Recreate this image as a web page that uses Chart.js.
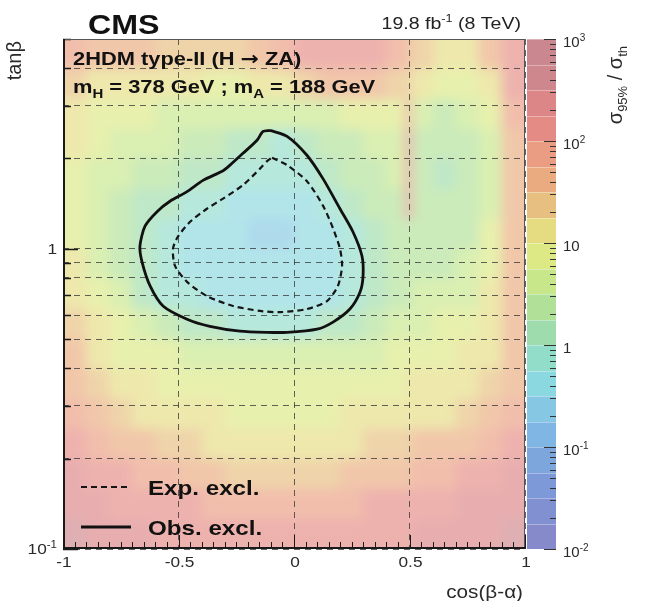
<!DOCTYPE html>
<html>
<head>
<meta charset="utf-8">
<script src="https://cdn.jsdelivr.net/npm/chart.js@4.4.1/dist/chart.umd.min.js"></script>
<style>
  html, body { margin: 0; padding: 0; background: #ffffff; }
  #wrap { width: 651px; height: 601px; }
</style>
</head>
<body>
<div id="wrap"><canvas id="chart" width="651" height="601"></canvas></div>
<script>
// ---- binning of the limit map ----
const cosBins  = [-1, -0.9, -0.8, -0.7, -0.6, -0.5, -0.4, -0.3, -0.2, -0.1, 0, 0.1, 0.2, 0.3, 0.4, 0.48, 0.51, 0.6, 0.7, 0.8, 0.9, 1];
const tanbBins = [0.1, 0.126, 0.158, 0.2, 0.251, 0.316, 0.398, 0.501, 0.631, 0.794, 1, 1.26, 1.58, 2, 2.51, 3.16, 3.98, 5];

// log10(sigma_95% / sigma_th), one row per tanb bin (bottom to top), one entry per cos bin
const log10Ratio = [
  [2.5, 2.4, 2.3, 2.3, 2.2, 2.2, 2.1, 2.1, 2.0, 2.0, 2.0, 2.1, 2.1, 2.2, 2.2, 2.2, 2.3, 2.3, 2.4, 2.4, 2.5],
  [2.4, 2.3, 2.2, 2.1, 2.0, 2.0, 1.9, 1.9, 1.8, 1.8, 1.8, 1.9, 1.9, 2.0, 2.1, 2.1, 2.1, 2.2, 2.3, 2.3, 2.4],
  [2.3, 2.1, 2.0, 1.9, 1.75, 1.6, 1.5, 1.45, 1.4, 1.4, 1.4, 1.45, 1.5, 1.6, 1.7, 1.7, 1.8, 1.9, 2.0, 2.1, 2.3],
  [2.1, 1.9, 1.7, 1.5, 1.4, 1.3, 1.2, 1.15, 1.1, 1.1, 1.1, 1.15, 1.2, 1.3, 1.4, 1.4, 1.5, 1.5, 1.7, 1.9, 2.1],
  [1.9, 1.6, 1.35, 1.2, 1.1, 1.05, 1.0, 0.95, 0.95, 0.95, 0.95, 0.95, 1.0, 1.05, 1.1, 1.1, 1.15, 1.2, 1.3, 1.6, 1.9],
  [1.7, 1.3, 1.1, 1.0, 0.95, 0.9, 0.85, 0.85, 0.8, 0.8, 0.8, 0.85, 0.85, 0.9, 0.95, 1.0, 1.0, 1.05, 1.1, 1.3, 1.7],
  [1.5, 1.1, 0.95, 0.85, 0.75, 0.7, 0.65, 0.6, 0.6, 0.6, 0.6, 0.6, 0.65, 0.7, 0.8, 0.85, 0.85, 0.9, 1.0, 1.2, 1.6],
  [1.3, 1.0, 0.8, 0.6, 0.4, 0.15, 0.0, -0.05, -0.05, -0.05, -0.05, 0.05, 0.2, 0.4, 0.55, 0.6, 0.65, 0.75, 0.85, 1.1, 1.5],
  [1.1, 0.8, 0.55, 0.15, -0.1, -0.25, -0.35, -0.4, -0.4, -0.4, -0.4, -0.3, -0.05, 0.2, 0.35, 0.45, 0.5, 0.6, 0.7, 1.0, 1.5],
  [1.0, 0.65, 0.35, 0.0, -0.2, -0.4, -0.45, -0.5, -0.5, -0.5, -0.5, -0.4, -0.15, 0.15, 0.3, 0.35, 0.35, 0.45, 0.55, 0.85, 1.6],
  [0.95, 0.6, 0.3, 0.0, -0.2, -0.4, -0.45, -0.5, -0.55, -0.65, -0.5, -0.4, -0.1, 0.15, 0.3, 0.3, 0.3, 0.35, 0.45, 0.75, 1.6],
  [0.95, 0.6, 0.4, 0.2, 0.05, -0.1, -0.2, -0.35, -0.4, -0.4, -0.35, -0.1, 0.15, 0.3, 0.4, 2.2, 0.3, 0.25, 0.3, 0.6, 1.6],
  [0.95, 0.65, 0.5, 0.4, 0.3, 0.2, 0.1, -0.05, -0.2, -0.25, -0.15, 0.05, 0.25, 0.4, 0.5, 2.2, 0.3, 0.2, 0.25, 0.6, 1.6],
  [1.0, 0.75, 0.6, 0.55, 0.5, 0.4, 0.3, 0.2, 0.05, -0.05, 0.05, 0.25, 0.45, 0.55, 0.6, 2.2, 0.35, 0.25, 0.3, 0.65, 1.7],
  [1.1, 0.9, 0.8, 0.75, 0.7, 0.65, 0.6, 0.55, 0.5, 0.5, 0.55, 0.65, 0.75, 0.85, 0.9, 1.8, 0.5, 0.45, 0.5, 0.85, 1.8],
  [1.4, 1.2, 1.1, 1.05, 1.0, 1.0, 0.95, 0.95, 1.0, 1.1, 1.3, 1.5, 1.6, 1.5, 1.3, 1.4, 1.0, 0.9, 0.95, 1.2, 2.0],
  [1.8, 1.7, 1.6, 1.5, 1.45, 1.4, 1.4, 1.45, 1.6, 1.8, 2.0, 2.1, 2.1, 2.0, 1.8, 1.7, 1.4, 1.2, 1.2, 1.5, 2.2]
];

// ---- exclusion contours ----
const expCos  = [-0.095, -0.030, 0.056, 0.126, 0.169, 0.199, 0.208, 0.190, 0.143, 0.056, -0.061, -0.147, -0.264, -0.377, -0.463, -0.515, -0.524, -0.502, -0.450, -0.377, -0.307, -0.221, -0.147, -0.113];
const expTanb = [2.01, 1.90, 1.68, 1.39, 1.17, 1.00, 0.877, 0.752, 0.670, 0.630, 0.615, 0.621, 0.645, 0.696, 0.776, 0.877, 1.00, 1.10, 1.23, 1.36, 1.47, 1.63, 1.85, 1.97];
const obsCos  = [-0.104, -0.030, 0.056, 0.126, 0.199, 0.255, 0.294, 0.299, 0.286, 0.242, 0.169, 0.100, -0.030, -0.117, -0.234, -0.364, -0.463, -0.567, -0.623, -0.658, -0.667, -0.645, -0.593, -0.537, -0.463, -0.394, -0.307, -0.277, -0.221, -0.160, -0.134];
const obsTanb = [2.48, 2.37, 2.05, 1.71, 1.36, 1.14, 0.948, 0.813, 0.718, 0.630, 0.570, 0.540, 0.527, 0.527, 0.532, 0.552, 0.583, 0.645, 0.752, 0.905, 1.02, 1.19, 1.33, 1.44, 1.55, 1.69, 1.82, 1.90, 2.08, 2.30, 2.46];

// ---- axes ----
const cosTicks      = [-1, -0.5, 0, 0.5, 1];
const cosTickLabels = ['-1', '-0.5', '0', '0.5', '1'];
const tanbTicks     = [0.1, 0.2, 0.3, 0.4, 0.5, 0.6, 0.7, 0.8, 0.9, 1, 2, 3, 4, 5];
const tanbLabelled  = [0.1, 1];
const tanbLabels    = [[{t: '10'}, {t: '-1', sup: true}], [{t: '1'}]];
const zTicks        = [0.01, 0.1, 1, 10, 100, 1000];
const zLabels       = [[{t: '10'}, {t: '-2', sup: true}], [{t: '10'}, {t: '-1', sup: true}], [{t: '1'}], [{t: '10'}],
                       [{t: '10'}, {t: '2', sup: true}], [{t: '10'}, {t: '3', sup: true}]];

// colour levels of the z axis, 4 per decade from 10^-2 to 10^3
const zPalette = ['#787cc4', '#7284cc', '#6e8ed2', '#6e9cd8', '#72aee0', '#78c2e0', '#7ed4dc', '#86d8c4', '#94d8a4', '#a8de8c',
                  '#c2e47e', '#d8e676', '#e2d874', '#e4b872', '#e8a272', '#e89274', '#e27e78', '#d8787a', '#c87a80', '#c47a82'];

const FONT = '"Liberation Sans", Arial, Helvetica, sans-serif';
const STRETCH = 1.15;

function levelIndex(logv) {
  const i = Math.floor((logv + 2) / 0.25 + 1e-9);
  return Math.max(0, Math.min(zPalette.length - 1, i));
}
function washed(hex, a) {
  const n = parseInt(hex.slice(1), 16);
  const r = (n >> 16) & 255, g = (n >> 8) & 255, b = n & 255;
  const m = v => Math.round(v * a + 255 * (1 - a));
  return `rgb(${m(r)},${m(g)},${m(b)})`;
}

function drawRich(ctx, parts, x, y, o) {
  const size = o.size, weight = o.weight || 'normal';
  const sx = o.sx || 1;
  const fontFor = p => `${weight} ${(p.sup || p.sub) ? Math.round(size * 0.66) : size}px ${p.family || FONT}`;
  let w = 0;
  parts.forEach(p => { ctx.font = fontFor(p); p._w = ctx.measureText(p.t).width; w += p._w; });
  ctx.save();
  ctx.translate(x, y);
  if (o.rotate) ctx.rotate(o.rotate);
  ctx.scale(sx, 1);
  let cx = o.align === 'right' ? -w : (o.align === 'center' ? -w / 2 : 0);
  ctx.fillStyle = o.color || '#111';
  ctx.textAlign = 'left';
  ctx.textBaseline = 'alphabetic';
  parts.forEach(p => {
    ctx.font = fontFor(p);
    const dy = p.sup ? -size * 0.42 : (p.sub ? size * 0.25 : 0);
    ctx.fillText(p.t, cx, dy);
    cx += p._w;
  });
  ctx.restore();
}

// limit map painted below the grid; the cell layer is softened like a finely binned histogram
const limitMap = {
  id: 'limitMap',
  beforeDraw(chart) {
    const {ctx, chartArea: a, scales: {x, y}} = chart;
    ctx.save();
    ctx.fillStyle = '#ffffff';
    ctx.fillRect(0, 0, chart.width, chart.height);
    const layer = document.createElement('canvas');
    layer.width = chart.width; layer.height = chart.height;
    const lc = layer.getContext('2d');
    const nRows = log10Ratio.length;
    for (let r = 0; r < nRows; r++) {
      let yTop = Math.round(y.getPixelForValue(tanbBins[r + 1]));
      let yBot = Math.round(y.getPixelForValue(tanbBins[r]));
      if (r === nRows - 1) yTop -= 30;
      if (r === 0) yBot += 30;
      const row = log10Ratio[r];
      for (let c = 0; c < row.length; c++) {
        let x0 = Math.round(x.getPixelForValue(cosBins[c]));
        let x1 = Math.round(x.getPixelForValue(cosBins[c + 1]));
        if (c === 0) x0 -= 30;
        if (c === row.length - 1) x1 += 30;
        lc.fillStyle = washed(zPalette[levelIndex(row[c])], 0.6);
        lc.fillRect(x0, yTop, x1 - x0, yBot - yTop);
      }
    }
    ctx.beginPath();
    ctx.rect(a.left, a.top, a.right - a.left, a.bottom - a.top);
    ctx.clip();
    ctx.filter = 'blur(6px)';
    ctx.drawImage(layer, 0, 0);
    ctx.filter = 'none';
    ctx.restore();
  }
};

// frame, inner tick marks, colour scale, texts and legend
const decorations = {
  id: 'decorations',
  afterDatasetsDraw(chart) {
    const {ctx, chartArea: a, scales: {x, y}} = chart;
    ctx.save();
    ctx.strokeStyle = '#1a1a1a';
    for (let v = -1; v <= 1.0001; v += 0.05) {
      const px = Math.round(x.getPixelForValue(v)) + 0.5;
      const major = cosTicks.some(t => Math.abs(t - v) < 1e-6);
      ctx.lineWidth = 1;
      ctx.beginPath(); ctx.moveTo(px, a.bottom); ctx.lineTo(px, a.bottom - (major ? 14 : 7)); ctx.stroke();
    }
    tanbTicks.forEach(v => {
      const py = Math.round(y.getPixelForValue(v)) + 0.5;
      const major = tanbLabelled.includes(v);
      ctx.lineWidth = 1.5;
      ctx.beginPath(); ctx.moveTo(a.left, py); ctx.lineTo(a.left + (major ? 15 : 8), py); ctx.stroke();
    });
    ctx.lineWidth = 1;
    ctx.strokeStyle = '#555';
    ctx.strokeRect(a.left + 0.5, a.top + 0.5, a.right - a.left - 1, a.bottom - a.top - 1);
    ctx.strokeStyle = '#1a1a1a';
    ctx.lineWidth = 2;
    ctx.beginPath();
    ctx.moveTo(a.left + 1, a.top); ctx.lineTo(a.left + 1, a.bottom - 1); ctx.lineTo(a.right, a.bottom - 1);
    ctx.stroke();
    ctx.restore();
  },
  afterDraw(chart) {
    const {ctx, chartArea: a, scales: {x, y, z}} = chart;
    ctx.save();

    // colour scale
    const barL = a.right + 2, barR = a.right + 31;
    for (let k = 0; k < zPalette.length; k++) {
      const lo = Math.pow(10, -2 + 0.25 * k), hi = Math.pow(10, -2 + 0.25 * (k + 1));
      const y0 = Math.round(z.getPixelForValue(hi)), y1 = Math.round(z.getPixelForValue(lo));
      ctx.fillStyle = washed(zPalette[k], 0.9);
      ctx.fillRect(barL, y0, barR - barL, y1 - y0);
      ctx.fillStyle = 'rgba(255,255,255,0.35)';
      ctx.fillRect(barL, y0, barR - barL, 1);
    }
    ctx.strokeStyle = '#333';
    ctx.lineWidth = 1;
    for (let d = -2; d <= 3; d++) {
      for (let m = 1; m <= 9; m++) {
        if (d === 3 && m > 1) continue;
        const v = m * Math.pow(10, d);
        const py = Math.round(z.getPixelForValue(v)) + 0.5;
        ctx.beginPath(); ctx.moveTo(barR, py); ctx.lineTo(barR - (m === 1 ? 12 : 6), py); ctx.stroke();
      }
    }
    zTicks.forEach((v, i) => {
      drawRich(ctx, zLabels[i], barR + 7, z.getPixelForValue(v) + 8, {size: 15, color: '#2a2a2a'});
    });
    drawRich(ctx, [{t: 'σ'}, {t: '95%', sub: true}, {t: ' / σ'}, {t: 'th', sub: true}], 622, 46,
             {size: 20, color: '#2a2a2a', rotate: -Math.PI / 2, align: 'right'});

    // axis labels
    cosTicks.forEach((v, i) => {
      drawRich(ctx, [{t: cosTickLabels[i]}], x.getPixelForValue(v) + 1, a.bottom + 18, {size: 15, color: '#2a2a2a', align: 'center', sx: STRETCH});
    });
    tanbLabelled.forEach((v, i) => {
      drawRich(ctx, tanbLabels[i], a.left - 6, y.getPixelForValue(v) + 5, {size: 15, color: '#2a2a2a', align: 'right', sx: STRETCH});
    });
    drawRich(ctx, [{t: 'cos(β-α)'}], a.right - 2, 598, {size: 18, color: '#2a2a2a', align: 'right', sx: STRETCH});
    drawRich(ctx, [{t: 'tanβ'}], 21, a.top + 2, {size: 20, color: '#2a2a2a', rotate: -Math.PI / 2, align: 'right'});

    // header
    drawRich(ctx, [{t: 'CMS'}], 88, 34, {size: 28, weight: 'bold', sx: STRETCH});
    drawRich(ctx, [{t: '19.8 fb'}, {t: '-1', sup: true}, {t: ' (8 TeV)'}], a.right - 4, 29, {size: 17, align: 'right', sx: STRETCH, color: '#222'});
    drawRich(ctx, [{t: '2HDM type-II (H '}, {t: '→', family: '"DejaVu Sans", sans-serif'}, {t: ' ZA)'}],
             a.left + 10, 65, {size: 19, weight: 'bold', sx: STRETCH});
    drawRich(ctx, [{t: 'm'}, {t: 'H', sub: true}, {t: ' = 378 GeV ; m'}, {t: 'A', sub: true}, {t: ' = 188 GeV'}],
             a.left + 10, 93, {size: 19, weight: 'bold', sx: STRETCH});

    // legend
    chart.data.datasets.forEach((ds, i) => {
      const ly = 487 + i * 40;
      ctx.save();
      ctx.strokeStyle = ds.borderColor;
      ctx.lineWidth = ds.borderWidth;
      ctx.setLineDash(ds.borderDash || []);
      ctx.beginPath(); ctx.moveTo(81, ly); ctx.lineTo(131, ly); ctx.stroke();
      ctx.restore();
      drawRich(ctx, [{t: ds.label}], 148, ly + 8, {size: 21, weight: 'bold', sx: STRETCH});
    });
    ctx.restore();
  }
};

const toPoints = (xs, ys) => {
  const pts = xs.map((v, i) => ({x: v, y: ys[i]}));
  pts.push({x: xs[0], y: ys[0]});
  return pts;
};

new Chart(document.getElementById('chart'), {
  type: 'scatter',
  data: {
    datasets: [
      {label: 'Exp. excl.', data: toPoints(expCos, expTanb), showLine: true, borderColor: '#151515',
       borderWidth: 2.2, borderDash: [6, 4], pointRadius: 0, tension: 0.25, fill: false},
      {label: 'Obs. excl.', data: toPoints(obsCos, obsTanb), showLine: true, borderColor: '#111111',
       borderWidth: 2.8, pointRadius: 0, tension: 0.25, fill: false}
    ]
  },
  options: {
    responsive: false,
    animation: false,
    devicePixelRatio: 1,
    events: [],
    layout: {padding: {top: 39, right: 0, bottom: 0, left: 0}},
    plugins: {legend: {display: false}, tooltip: {enabled: false}},
    scales: {
      x: {
        type: 'linear', position: 'bottom', min: -1, max: 1,
        ticks: {display: false, stepSize: 0.5},
        grid: {color: 'rgba(50,50,50,0.75)', lineWidth: 1, drawTicks: false},
        border: {display: false, dash: [6, 5]},
        afterBuildTicks: s => { s.ticks = cosTicks.map(v => ({value: v})); },
        afterFit: s => { s.height = 52; }
      },
      y: {
        type: 'logarithmic', position: 'left', min: 0.1, max: 5,
        ticks: {display: false, autoSkip: false},
        grid: {color: 'rgba(50,50,50,0.75)', lineWidth: 1, drawTicks: false},
        border: {display: false, dash: [6, 5]},
        afterBuildTicks: s => { s.ticks = tanbTicks.map(v => ({value: v})); },
        afterFit: s => { s.width = 63; }
      },
      z: {
        type: 'logarithmic', axis: 'y', position: 'right', min: 0.01, max: 1000,
        ticks: {display: false},
        grid: {display: false, drawTicks: false},
        border: {display: false},
        afterBuildTicks: s => { s.ticks = zTicks.map(v => ({value: v})); },
        afterFit: s => { s.width = 126; }
      }
    }
  },
  plugins: [limitMap, decorations]
});
</script>
</body>
</html>
